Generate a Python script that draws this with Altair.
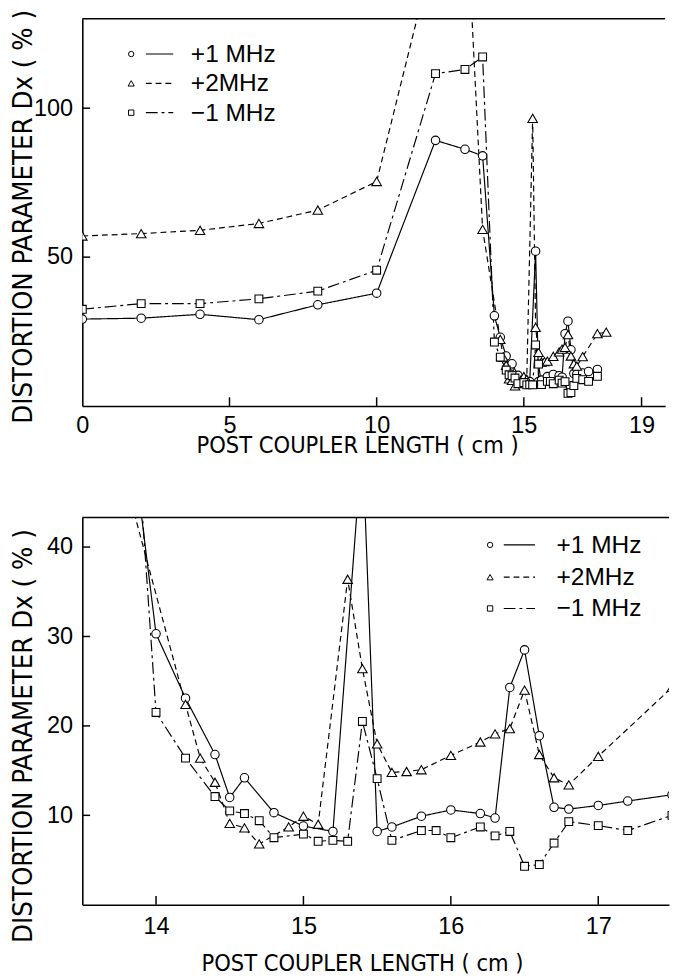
import altair as alt
import pandas as pd

# ---------------- data ----------------
# +1 MHz (circles, solid line)
P1_X = [0, 2, 4, 6, 8, 10, 12, 13, 13.6, 14.0, 14.2, 14.4, 14.5, 14.6, 14.8, 15.0, 15.2,
        15.4, 15.5, 15.6, 15.8, 16.0, 16.2, 16.3, 16.4, 16.5, 16.6, 16.7, 16.8, 17.0, 17.2, 17.5]
P1_Y = [29.2, 29.5, 30.8, 29.0, 34.0, 37.9, 89.2, 86.2, 84.0, 30.3, 23.1, 16.8, 12.0, 14.2, 10.3, 8.8, 8.2,
        52.0, 8.2, 8.7, 9.9, 10.6, 10.2, 9.7, 24.3, 28.5, 18.9, 10.9, 10.7, 11.1, 11.6, 12.3]

# +2 MHz (triangles, dashed line)
P2_X = [0, 2, 4, 6, 8, 10, 12, 13, 13.6, 14.2, 14.3, 14.4, 14.5, 14.6, 14.7, 14.9, 15.0, 15.1,
        15.3, 15.4, 15.5, 15.6, 15.7, 15.8, 16.0, 16.2, 16.3, 16.4, 16.5, 16.6, 16.7, 16.8, 17.0, 17.5, 17.8]
P2_Y_TOP = [57.1, 57.9, 59.0, 61.3, 65.8, 75.4, 155.0, 177.0, 59.3, 22.4, 16.4, 13.7, 9.1, 8.6, 6.8, 8.7, 9.9, 9.0,
            96.6, 26.4, 18.0, 14.8, 14.9, 15.1, 16.7, 18.2, 19.1, 19.7, 24.0, 16.8, 14.2, 13.4, 16.6, 24.3, 24.8]
P2_Y_BOTTOM = [57.1, 57.9, 59.0, 61.3, 65.8, 75.4, 155.0, 177.0, 59.3, 22.4, 16.4, 13.7, 9.1, 8.6, 6.8, 8.7, 9.9, 9.0,
               36.4, 26.4, 18.0, 14.8, 14.9, 15.1, 16.7, 18.2, 19.1, 19.7, 24.0, 16.8, 14.2, 13.4, 16.6, 24.3, 24.8]

# -1 MHz (squares, dash-dot line)
M1_X = [0, 2, 4, 6, 8, 10, 12, 13, 13.6, 14.0, 14.2, 14.4, 14.5, 14.6, 14.7, 14.8, 15.0, 15.1, 15.2, 15.3,
        15.4, 15.5, 15.6, 15.8, 15.9, 16.0, 16.2, 16.3, 16.4, 16.5, 16.6, 16.7, 16.8, 17.0, 17.2, 17.5]
M1_Y = [32.5, 34.4, 34.4, 36.0, 38.6, 45.6, 111.6, 113.0, 117.2, 21.5, 16.4, 12.1, 10.5, 10.2, 9.4, 7.5, 7.9, 7.1, 7.2, 7.1,
        20.5, 14.1, 7.2, 8.3, 8.3, 7.5, 8.7, 7.7, 8.2, 4.3, 4.5, 6.9, 9.3, 8.85, 8.3, 10.0]

TOP_XTICKS = [0, 5, 10, 15, 19]
TOP_YTICKS = [50, 100]
BOT_XTICKS = [14, 15, 16, 17]
BOT_YTICKS = [10, 20, 30, 40]
LEGEND_LABELS = ["+1 MHz", "+2MHz", "\u22121 MHz"]

X_TITLE = "POST COUPLER LENGTH   ( cm )"
Y_TITLE = "DISTORTION  PARAMETER  Dx  ( % )"

LABEL_FONT = "Liberation Sans"
TITLE_FONT = "Liberation Sans Narrow, DejaVu Sans Condensed, Liberation Sans"

SHAPES = ["circle", "triangle-up", "square"]
SIZES = [75, 95, 64]
LEG_SIZES = [30, 40, 30]
DASHES = [[1, 0], [6, 4], [12, 4, 3, 4]]


def panel(series, xdom, ydom, w, h, xticks, yticks, lab_pad_x, title_pad_x, title_x, title_y, leg):
    xenc = alt.X("x:Q", scale=alt.Scale(domain=xdom, nice=False, zero=False),
                 axis=alt.Axis(values=xticks, tickSize=0, labelPadding=lab_pad_x, grid=False, format="d",
                               labelFlush=False, title=X_TITLE, titlePadding=title_pad_x, titleX=title_x,
                               labelFont=LABEL_FONT, labelFontSize=24, labelColor="black",
                               titleFont=TITLE_FONT, titleFontSize=24, titleFontWeight="normal",
                               titleColor="black", domainColor="black", domainWidth=1.6))
    yenc = alt.Y("y:Q", scale=alt.Scale(domain=ydom, nice=False, zero=False),
                 axis=alt.Axis(values=yticks, tickSize=0, labelPadding=10, grid=False, format="d",
                               labelFlush=False, title=Y_TITLE, titlePadding=2, titleY=title_y,
                               minExtent=44, maxExtent=44,
                               labelFont=LABEL_FONT, labelFontSize=24, labelColor="black",
                               titleFont=TITLE_FONT, titleFontSize=28, titleFontWeight="normal",
                               titleColor="black", domainColor="black", domainWidth=1.6))
    layers = []
    for i, (xs, ys) in enumerate(series):
        df = pd.DataFrame({"x": xs, "y": ys})
        layers.append(alt.Chart(df).mark_line(color="black", strokeWidth=1.2, strokeDash=DASHES[i],
                                              clip=True).encode(x=xenc, y=yenc))
    for i, (xs, ys) in enumerate(series):
        df = pd.DataFrame({"x": xs, "y": ys})
        layers.append(alt.Chart(df).mark_point(shape=SHAPES[i], size=SIZES[i], filled=True, fill="white",
                                               stroke="black", strokeWidth=1.1, opacity=1,
                                               clip=True).encode(x=xenc, y=yenc))
    # inward ticks
    layers.append(alt.Chart(pd.DataFrame({"x": [t for t in xticks if t != xdom[0]]}))
                  .mark_rule(color="black", strokeWidth=1.5)
                  .encode(x=xenc, y=alt.value(h), y2=alt.value(h - 9)))
    layers.append(alt.Chart(pd.DataFrame({"y": yticks}))
                  .mark_rule(color="black", strokeWidth=1.5)
                  .encode(y=yenc, x=alt.value(0), x2=alt.value(8)))
    # top frame line
    layers.append(alt.Chart(pd.DataFrame({"x": [0]})).mark_rule(color="black", strokeWidth=1.6)
                  .encode(x=alt.value(0), x2=alt.value(w), y=alt.value(0)))
    # manual legend
    mx, lx1, lx2, tx, rows = leg
    one = pd.DataFrame({"k": [0]})
    for i, lab in enumerate(LEGEND_LABELS):
        ry = rows[i]
        layers.append(alt.Chart(one).mark_point(shape=SHAPES[i], size=LEG_SIZES[i], filled=True, fill="white",
                                                stroke="black", strokeWidth=1.0, opacity=1)
                      .encode(x=alt.value(mx), y=alt.value(ry)))
        layers.append(alt.Chart(one).mark_rule(color="black", strokeWidth=1.2, strokeDash=DASHES[i])
                      .encode(x=alt.value(lx1), x2=alt.value(lx2), y=alt.value(ry)))
        layers.append(alt.Chart(one).mark_text(text=lab, font=LABEL_FONT, fontSize=25, align="left",
                                               baseline="middle", color="black")
                      .encode(x=alt.value(tx), y=alt.value(ry)))
    return alt.layer(*layers).properties(width=w, height=h)


top = panel([(P1_X, P1_Y), (P2_X, P2_Y_TOP), (M1_X, M1_Y)],
            [0, 19.8], [0, 130], 596, 396, TOP_XTICKS, TOP_YTICKS, 8, -4, 281, 202,
            (50, 65, 93, 111, [36, 66, 96]))
bottom = panel([(P1_X, P1_Y), (P2_X, P2_Y_BOTTOM), (M1_X, M1_Y)],
               [13.5, 17.48], [0, 43.3], 600, 396, BOT_XTICKS, BOT_YTICKS, 10, 14, 286, 223,
               (417, 431, 463, 485, [28, 61, 93]))

chart = (alt.vconcat(top, bottom, spacing=61)
         .properties(padding={"left": 2, "top": -22, "right": 0, "bottom": 0}, background="white")
         .configure_view(stroke=None))

chart.save("out.html", embed_options={"renderer": "svg", "actions": False})
